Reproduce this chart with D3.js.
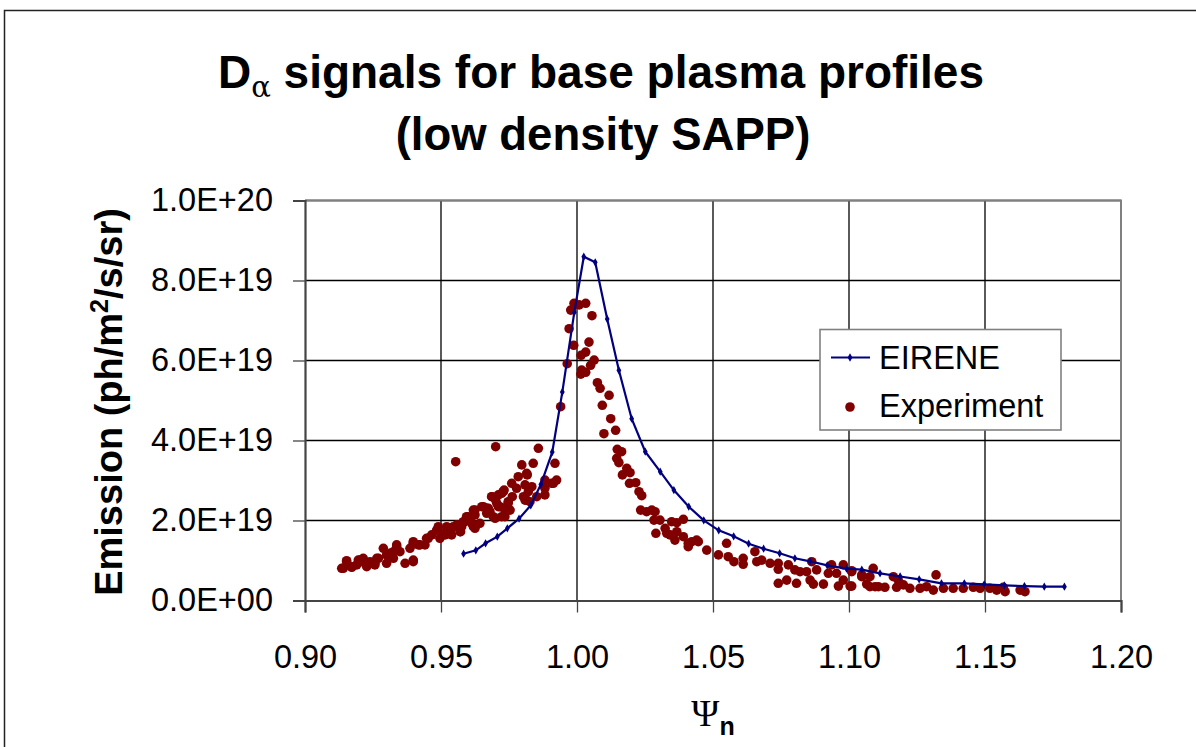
<!DOCTYPE html>
<head>
<meta charset="utf-8">
<style>
body { margin: 0; background: #fff; }
text { font-family: "Liberation Sans", Arial, sans-serif; fill: #000; }
.grid line { stroke: #000; stroke-width: 1.3px; }
</style>
</head>
<body>
<script src="https://cdn.jsdelivr.net/npm/d3@7"></script>
<script>
// values in units of 1E+19 ph/m2/s/sr
var eirene = [
  [0.9583,1.17],[0.9628,1.255],[0.9664,1.43],[0.9707,1.595],[0.9744,1.805],[0.9787,2.045],
  [0.9830,2.38],[0.9867,2.90],[0.9909,3.71],[0.9946,5.21],[0.9990,7.205],[1.0025,8.595],
  [1.0067,8.455],[1.0111,7.04],[1.0154,5.755],[1.0201,4.545],[1.0251,3.72],[1.0306,3.22],
  [1.0356,2.76],[1.0411,2.345],[1.0466,2.005],[1.0521,1.755],[1.0576,1.605],[1.0631,1.42],
  [1.0686,1.295],[1.0745,1.18],[1.0801,1.055],[1.0857,0.98],[1.0920,0.88],[1.0991,0.795],
  [1.1047,0.77],[1.1114,0.68],[1.1188,0.60],[1.1258,0.53],[1.1340,0.43],[1.1424,0.43],
  [1.1497,0.405],[1.1571,0.38],[1.1645,0.36],[1.1718,0.345],[1.1792,0.345]
];

var experiment = [
  // left shoulder
  [0.9135,0.805],[0.9141,0.805],[0.9153,0.97],[0.9153,0.995],[0.9172,0.845],[0.9172,0.83],
  [0.9190,0.89],[0.9196,1.01],[0.9202,1.01],[0.9214,1.055],[0.9221,0.93],[0.9227,0.845],
  [0.9239,0.97],[0.9257,0.93],[0.9257,0.89],[0.9264,1.055],[0.9270,1.055],[0.9288,1.305],
  [0.9300,1.14],[0.9300,0.93],[0.9306,1.14],[0.9313,1.18],[0.9325,1.055],[0.9325,1.22],
  [0.9337,1.345],[0.9337,1.39],[0.9349,1.22],[0.9368,0.93],[0.9386,1.305],[0.9398,1.43],
  [0.9398,0.97],[0.9398,1.01],[0.9398,1.47],[0.9417,1.39],[0.9423,1.39],[0.9441,1.39],
  [0.9447,1.555],[0.9453,1.555],[0.9466,1.64],[0.9484,1.76],[0.9490,1.845],[0.9496,1.555],
  [0.9508,1.68],[0.9515,1.64],[0.9521,1.845],[0.9539,1.64],[0.9539,1.805],[0.9545,1.845],
  [0.9554,3.47],[0.9558,1.89],[0.9570,1.72],[0.9572,1.72],[0.9576,1.845],[0.9582,1.97],
  [0.9588,1.97],[0.9594,2.095],[0.9600,2.095],[0.9607,2.01],[0.9613,1.93],[0.9619,1.845],
  [0.9619,2.26],[0.9625,2.14],[0.9625,1.805],[0.9625,2.26],[0.9643,1.93],[0.9650,2.345],
  [0.9656,2.345],[0.9668,2.305],[0.9668,2.18],[0.9674,2.305],[0.9680,2.22],[0.9686,2.595],
  [0.9688,2.595],[0.9692,2.095],[0.9699,2.055],[0.9701,3.845],[0.9701,2.51],[0.9705,2.43],
  [0.9711,2.64],[0.9711,2.345],[0.9717,2.345],[0.9723,2.68],[0.9723,2.095],[0.9729,2.72],
  [0.9732,2.76],[0.9735,2.095],[0.9735,2.26],[0.9747,2.47],[0.9747,2.43],[0.9754,2.26],
  [0.9760,2.93],[0.9762,2.595],[0.9778,2.805],[0.9784,3.095],[0.9797,3.39],[0.9803,2.595],
  [0.9809,2.89],[0.9809,2.51],[0.9815,3.18],[0.9815,2.51],[0.9817,3.14],[0.9821,2.72],
  [0.9827,2.47],[0.9834,2.845],[0.9839,3.43],[0.9852,2.595],[0.9858,3.805],[0.9882,3.01],
  [0.9882,2.805],[0.9882,2.64],[0.9907,2.93],[0.9913,2.93],[0.9919,3.43],[0.9925,3.01],
  // peak
  [0.9940,4.845],[0.9964,5.92],[0.9971,6.795],[0.9977,7.26],[0.9988,6.38],[0.9989,7.43],
  [1.0008,7.39],[1.0014,5.66],[1.0015,6.13],[1.0017,5.76],[1.0032,7.43],[1.0032,6.21],
  [1.0032,5.705],[1.0044,6.46],[1.0050,5.88],[1.0055,7.12],[1.0063,6.01],[1.0075,5.445],
  [1.0085,5.305],[1.0093,4.88],[1.0099,4.17],[1.0118,5.13],[1.0124,4.545],[1.0142,4.255],
  // right shoulder
  [1.0146,3.555],[1.0148,3.78],[1.0154,3.445],[1.0164,3.72],[1.0167,3.14],[1.0183,3.305],
  [1.0193,2.93],[1.0195,3.195],[1.0216,2.945],[1.0228,2.72],[1.0234,2.26],[1.0238,2.62],
  [1.0256,2.22],[1.0275,2.26],[1.0283,2.01],[1.0287,2.22],[1.0290,1.68],[1.0305,2.01],
  [1.0324,1.805],[1.0330,1.68],[1.0342,1.64],[1.0348,1.97],[1.0360,1.51],[1.0367,1.945],
  [1.0367,1.72],[1.0391,2.03],[1.0391,1.595],[1.0409,1.345],[1.0409,1.43],[1.0422,1.47],
  [1.0440,1.51],[1.0446,1.47],[1.0477,1.26],[1.0520,1.14],[1.0550,1.43],[1.0556,1.095],
  [1.0577,0.97],[1.0611,1.055],[1.0611,0.905],[1.0654,1.22],[1.0661,0.97],[1.0679,1.01],
  [1.0710,0.93],[1.0740,0.93],[1.0740,0.78],[1.0740,0.43],[1.0771,0.51],[1.0777,0.89],
  [1.0801,0.765],[1.0807,0.43],[1.0820,0.72],[1.0844,0.72],[1.0857,0.51],[1.0863,0.97],
  [1.0869,0.41],[1.0881,0.765],[1.0906,0.41],[1.0924,0.68],[1.0936,0.89],[1.0954,0.68],
  [1.0961,0.36],[1.0979,0.89],[1.0979,0.51],[1.1004,0.36],[1.1010,0.72],[1.1010,0.745],
  [1.1010,0.36],[1.1047,0.595],[1.1047,0.64],[1.1065,0.41],[1.1077,0.595],[1.1077,0.345],
  [1.1089,0.805],[1.1096,0.345],[1.1108,0.345],[1.1132,0.33],[1.1163,0.595],[1.1175,0.33],
  [1.1181,0.51],[1.1200,0.39],[1.1224,0.305],[1.1261,0.305],[1.1285,0.345],[1.1310,0.26],
  [1.1320,0.64],[1.1347,0.305],[1.1383,0.305],[1.1420,0.305],[1.1457,0.33],[1.1482,0.305],
  [1.1518,0.305],[1.1543,0.26],[1.1567,0.33],[1.1574,0.22],[1.1629,0.26],[1.1647,0.22]
];

var xTicks = [0.90, 0.95, 1.00, 1.05, 1.10, 1.15, 1.20];
var yTicks = [0, 2, 4, 6, 8, 10];

var W = 1196, H = 747;
var svg = d3.select("body").append("svg")
  .attr("width", W)
  .attr("height", H);

svg.append("rect").attr("width", W).attr("height", H).attr("fill", "#fff");

// outer chart frame (cropped at right and bottom)
svg.append("path")
  .attr("d", "M4.5," + H + "V10.5H" + W)
  .attr("fill", "none")
  .attr("stroke", "#222")
  .attr("stroke-width", 1.5);

var x = d3.scaleLinear().domain([0.9, 1.2]).range([305, 1121]);
var y = d3.scaleLinear().domain([0, 10]).range([600.5, 200.5]);

function fmtY(d) {
  if (d === 0) return "0.0E+00";
  return (d * 1e19).toExponential(1).toUpperCase();
}

// grid
var grid = svg.append("g").attr("class", "grid");
grid.selectAll(".gy").data(yTicks.slice(1)).enter().append("line")
  .attr("x1", 305).attr("x2", 1121)
  .attr("y1", function(d) { return y(d); })
  .attr("y2", function(d) { return y(d); });
grid.selectAll(".gx").data(xTicks.slice(1)).enter().append("line")
  .attr("y1", 200.5).attr("y2", 600.5)
  .attr("x1", function(d) { return x(d); })
  .attr("x2", function(d) { return x(d); });

// plot frame top / right
svg.append("path")
  .attr("d", "M305," + 200.5 + "H1121V600.5")
  .attr("fill", "none")
  .attr("stroke", "#808080")
  .attr("stroke-width", 2);

// axes
var yAxis = svg.append("g")
  .attr("transform", "translate(305,0)")
  .call(d3.axisLeft(y).tickValues(yTicks).tickFormat(fmtY).tickSize(12).tickPadding(20));
var xAxis = svg.append("g")
  .attr("transform", "translate(0,600.5)")
  .call(d3.axisBottom(x).tickValues(xTicks).tickFormat(d3.format(".2f")).tickSize(12).tickPadding(32));

[yAxis, xAxis].forEach(function(a) {
  a.select(".domain").attr("stroke", "#444").attr("stroke-width", 2.2);
  a.selectAll(".tick line").attr("stroke", "#444").attr("stroke-width", 1.3);
  a.selectAll(".tick text")
    .style("font-family", "'Liberation Sans', Arial, sans-serif")
    .style("font-size", "32.5px")
    .attr("fill", "#000");
});

// experiment
svg.append("g").selectAll("circle").data(experiment).enter().append("circle")
  .attr("cx", function(d) { return x(d[0]); })
  .attr("cy", function(d) { return y(d[1]); })
  .attr("r", 4.8)
  .attr("fill", "#800000");

// EIRENE
var line = d3.line()
  .x(function(d) { return x(d[0]); })
  .y(function(d) { return y(d[1]); });
svg.append("path")
  .datum(eirene)
  .attr("d", line)
  .attr("fill", "none")
  .attr("stroke", "#000080")
  .attr("stroke-width", 2.2);
svg.append("g").selectAll("path").data(eirene).enter().append("path")
  .attr("d", d3.symbol().type(d3.symbolDiamond).size(20))
  .attr("transform", function(d) { return "translate(" + x(d[0]) + "," + y(d[1]) + ")"; })
  .attr("fill", "#000080");

// legend
var lg = svg.append("g");
lg.append("rect")
  .attr("x", 820).attr("y", 329.5).attr("width", 241).attr("height", 100.5)
  .attr("fill", "#fff").attr("stroke", "#808080").attr("stroke-width", 1.6);
lg.append("line")
  .attr("x1", 831).attr("x2", 870).attr("y1", 357.5).attr("y2", 357.5)
  .attr("stroke", "#000080").attr("stroke-width", 2);
lg.append("path")
  .attr("d", d3.symbol().type(d3.symbolDiamond).size(20))
  .attr("transform", "translate(850,357.5)")
  .attr("fill", "#000080");
lg.append("circle").attr("cx", 850).attr("cy", 407).attr("r", 4.8).attr("fill", "#800000");
lg.append("text").attr("x", 879).attr("y", 369).style("font-size", "32.5px").text("EIRENE");
lg.append("text").attr("x", 879).attr("y", 417).style("font-size", "32.5px").text("Experiment");

// titles
var t1 = svg.append("text")
  .attr("x", 601).attr("y", 88)
  .attr("text-anchor", "middle")
  .style("font-size", "46px").style("font-weight", "bold");
t1.append("tspan").text("D");
t1.append("tspan").attr("dy", 9).style("font-size", "29px").style("font-weight", "normal")
  .style("font-family", "'DejaVu Serif', serif").text("\u03b1");
t1.append("tspan").attr("dy", -9).text(" signals for base plasma profiles");

svg.append("text")
  .attr("x", 603).attr("y", 150)
  .attr("text-anchor", "middle")
  .style("font-size", "45.5px").style("font-weight", "bold")
  .text("(low density SAPP)");

var yt = svg.append("text")
  .attr("transform", "translate(122,402) rotate(-90)")
  .attr("text-anchor", "middle")
  .style("font-size", "38px").style("font-weight", "bold");
yt.append("tspan").text("Emission (ph/m");
yt.append("tspan").attr("dy", -14).style("font-size", "25px").text("2");
yt.append("tspan").attr("dy", 14).text("/s/sr)");

var xt = svg.append("text")
  .attr("x", 713).attr("y", 726)
  .attr("text-anchor", "middle");
xt.append("tspan").style("font-family", "'Liberation Serif', serif").style("font-size", "38px").text("\u03a8");
xt.append("tspan").attr("dy", 9).style("font-size", "25px").style("font-weight", "bold").text("n");
</script>
</body>
